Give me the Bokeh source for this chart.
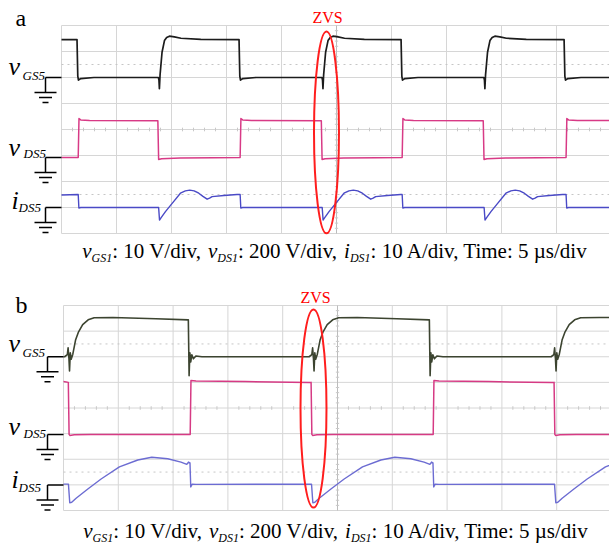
import numpy as np
from bokeh.plotting import figure
from bokeh.layouts import column
from bokeh.models import Range1d
from bokeh.core.properties import value
from bokeh.embed import file_html
from bokeh.resources import INLINE

# ---------------- scope settings ----------------
VGS_PER_DIV = 10.0    # V/div
VDS_PER_DIV = 200.0   # V/div
IDS_PER_DIV = 10.0    # A/div
US_PER_DIV = 5.0      # us/div
N_XDIV = 10
N_YDIV = 8
X_GRID = [0, 1, 2, 3, 4, 5, 6, 7, 8, 9, 10]
Y_GRID = [0, 1, 2, 3, 4, 5, 6, 7, 8]
DOTTED_Y = [1.5, 6.5]

# channel ground levels (divisions above the bottom of the screen)
A_GND_VGS, A_GND_VDS, A_GND_IDS = 6.0, 2.92, 1.0
B_GND_VGS, B_GND_VDS, B_GND_IDS = 6.0, 2.97, 1.0

# ---------------- panel a waveforms (time in us) ----------------
A_VGS_START = 14.6
A_VGS_FALL_T = [1.45, 16.18, 30.91, 45.73]
A_VGS_FALL_DT = [-0.04, 0.03, 0.09, 0.3, 1.5]
A_VGS_FALL_V = [14.6, 0.5, -1.0, -0.4, 0.0]
A_VGS_RISE_T = [8.86, 23.73, 38.45]
A_VGS_RISE_DT = [-0.05, 0.0, 0.04, 0.1, 0.28, 0.5, 0.7, 0.95, 1.4, 2.0, 3.8]
A_VGS_RISE_V = [0.0, -1.0, -4.3, 1.0, 9.7, 14.2, 15.4, 15.9, 15.6, 15.1, 14.7]

A_VDS_START = 0.0
A_VDS_RISE_T = [1.55, 16.27, 31.0, 45.9]
A_VDS_RISE_DT = [-0.03, 0.04, 0.2, 1.0]
A_VDS_RISE_V = [0.0, 300.0, 290.0, 286.0]
A_VDS_FALL_T = [8.80, 23.66, 38.38]
A_VDS_FALL_DT = [-0.04, 0.03, 0.3, 2.0, 5.0]
A_VDS_FALL_V = [284.0, -15.0, -9.0, -4.0, -2.0]

A_IDS_START = 4.8
A_IDS_DROP_T = [1.55, 16.27, 31.0, 45.9]
A_IDS_DROP_DT = [-0.03, 0.03, 0.2]
A_IDS_DROP_V = [5.0, -0.2, 0.0]
A_IDS_RISE_T = [8.86, 23.73, 38.45]
A_IDS_RISE_DT = [-0.03, 0.05, 0.2, 0.59, 1.2, 1.95, 2.4, 2.8, 3.2, 3.62, 4.0, 4.38, 4.6, 4.83, 5.9, 7.1]
A_IDS_RISE_V = [0.0, -4.8, -3.9, -1.6, 1.6, 5.5, 6.4, 6.7, 6.4, 5.5, 4.3, 3.2, 3.6, 4.2, 4.6, 5.0]

# ---------------- panel b waveforms (time in us) ----------------
B_VGS_START = 0.0
B_VGS_RISE_T = [0.50, 22.81, 44.89]
B_VGS_RISE_DT = [-0.4, -0.15, -0.08, 0.0, 0.05, 0.12, 0.2, 0.35, 0.6, 0.85, 1.25, 1.75, 2.3, 4.0]
B_VGS_RISE_V = [0.0, 0.8, 3.5, -1.0, -5.5, 1.5, -1.0, 1.0, 6.5, 9.5, 12.5, 14.4, 15.2, 15.3]
B_VGS_FALL_T = [11.43, 33.42]
B_VGS_FALL_DT = [-3.0, -0.04, 0.03, 0.1, 0.18, 0.28, 0.42, 0.65, 1.2]
B_VGS_FALL_V = [14.8, 14.4, -7.4, 1.5, -2.0, 0.8, -0.8, 0.3, 0.0]

B_VDS_START = 412.0
B_VDS_FALL_T = [0.48, 22.63, 44.80]
B_VDS_FALL_DT = [-0.04, 0.03, 0.1, 0.5, 2.0]
B_VDS_FALL_V = [406.0, 0.0, -8.0, -3.0, 0.0]
B_VDS_RISE_T = [11.59, 33.76]
B_VDS_RISE_DT = [-0.03, 0.04, 0.5, 5.0, 10.8]
B_VDS_RISE_V = [0.0, 420.0, 416.0, 412.0, 405.0]

B_IDS_START = 0.3
B_IDS_NEG_T = [0.45, 22.63, 44.80]
B_IDS_NEG_DT = [0.0, 0.12, 0.3, 0.7, 1.77, 2.98, 4.65, 6.33, 7.6, 9.06, 10.27, 10.8, 10.95]
B_IDS_NEG_V = [0.3, -7.0, -6.8, -5.2, -1.6, 2.3, 7.0, 9.7, 10.8, 10.2, 8.9, 8.0, 8.9]
B_IDS_ZERO_T = [11.59, 33.76]
B_IDS_ZERO_DT = [-0.05, 0.02, 0.15, 0.5]
B_IDS_ZERO_V = [8.6, -0.8, 0.3, 0.2]

# ZVS highlight ellipses (time us, div, width us, height div)
A_ZVS = dict(t=24.09, y=3.885, w=2.27, h=7.77)
B_ZVS = dict(t=22.81, y=3.98, w=2.37, h=7.73)

CAPTION = [("v", "italic", "main"), ("GS1", "italic", "sub"), (": 10 V/div, ", "normal", "main"),
           ("v", "italic", "main"), ("DS1", "italic", "sub"), (": 200 V/div, ", "normal", "main"),
           ("i", "italic", "main"), ("DS1", "italic", "sub"),
           (": 10 A/div, Time: 5 \u00b5s/div", "normal", "main")]

FONT = value("Liberation Serif")
A_COL = {"vgs": "#1c1c1c", "vds": "#d83a86", "ids": "#4a4ac6"}
B_COL = {"vgs": "#3c4430", "vds": "#d63a84", "ids": "#6c6cd2"}

# Times/Liberation Serif advance widths (per 1000 em)
REG_W = {' ': 250, ',': 250, ':': 278, '/': 278, 'A': 722, 'V': 722, 'T': 611, 'd': 500,
         'i': 278, 'v': 500, 'm': 778, 'e': 444, 's': 389, '\u00b5': 500}
ITA_W = {'v': 444, 'i': 278, 'G': 722, 'S': 500, 'D': 722}
BASE_K = 0.36   # empirical baseline correction (fraction of font size)


def text_width(s, style, size):
    tab = ITA_W if style == "italic" else REG_W
    return sum(tab.get(c, 500) for c in s) / 1000.0 * size


def build(start, events, t_end=50.0):
    ts, vs = [0.0], [start]
    for t0, dts, vals in sorted(events, key=lambda e: e[0]):
        for dt, v in zip(dts, vals):
            ts.append(t0 + dt)
            vs.append(v)
    ts.append(t_end)
    vs.append(vs[-1])
    return np.array(ts), np.array(vs)


def make_fig(h, xr, yr):
    p = figure(width=609, height=h, x_range=Range1d(*xr), y_range=Range1d(*yr),
               output_backend="svg", toolbar_location=None,
               x_axis_location=None, y_axis_location=None, min_border=0)
    p.grid.visible = False
    p.outline_line_color = None
    p.background_fill_color = "white"
    p.border_fill_color = "white"
    return p


def draw_screen(p):
    xs = [d * US_PER_DIV for d in X_GRID]
    tmax = N_XDIV * US_PER_DIV
    p.segment(x0=xs, y0=0, x1=xs, y1=N_YDIV, line_color="#d6d6d6", line_width=1)
    p.segment(x0=0, y0=Y_GRID, x1=tmax, y1=Y_GRID, line_color="#d6d6d6", line_width=1)
    p.segment(x0=[tmax / 2], y0=[0], x1=[tmax / 2], y1=[N_YDIV], line_color="#bcbcbc", line_width=1)
    p.segment(x0=0, y0=DOTTED_Y, x1=tmax, y1=DOTTED_Y, line_color="#c6c6c6",
              line_width=1, line_dash="2 4")
    tt = [k for k in range(1, 50) if k % 5]
    p.segment(x0=tt, y0=N_YDIV / 2 - 0.07, x1=tt, y1=N_YDIV / 2 + 0.07, line_color="#c8c8c8")
    ty = [k * 0.2 for k in range(1, 40) if k % 5]
    p.segment(x0=tmax / 2 - 0.15, y0=ty, x1=tmax / 2 + 0.15, y1=ty, line_color="#c8c8c8")


def ground(p, fx, fy, gnd_px, xl, xs):
    x0 = [xl, xl, xl - 11, xl - 6.5, xl - 3]
    x1 = [xs, xl, xl + 11, xl + 6.5, xl + 3]
    y0 = [gnd_px, gnd_px, gnd_px + 15, gnd_px + 20, gnd_px + 25]
    y1 = [gnd_px, gnd_px + 15, gnd_px + 15, gnd_px + 20, gnd_px + 25]
    p.segment(x0=[fx(v) for v in x0], y0=[fy(v) for v in y0],
              x1=[fx(v) for v in x1], y1=[fy(v) for v in y1],
              line_color="black", line_width=1.5)


def put_text(p, fx, fy, px, py, s, size, style="normal", color="black", align="left", xoff=0):
    p.text(x=[fx(px)], y=[fy(py - BASE_K * size)], text=[s], x_offset=xoff, text_font=FONT,
           text_font_style=style, text_font_size=f"{size}px", text_baseline="alphabetic",
           text_align=align, text_color=color)


def side_label(p, fx, fy, main, sub, mx, my, sx, sy):
    put_text(p, fx, fy, mx, my, main, 26, "italic")
    put_text(p, fx, fy, sx, sy, sub, 13, "italic")


def caption(p, fx, fy, cx, base):
    main, subsz = 21, 12
    widths = [text_width(s, st, main if k == "main" else subsz) for s, st, k in CAPTION]
    cum = -sum(widths) / 2.0
    for (s, st, k), w in zip(CAPTION, widths):
        size = main if k == "main" else subsz
        yy = base if k == "main" else base + 4
        put_text(p, fx, fy, cx, yy, s, size, st, xoff=cum)
        cum += w


# ---------------- panel a ----------------
fa_x = lambda px: (px - 61) / 11.0
fa_y = lambda py: (233 - py) / 26.0
pa = make_fig(273, (fa_x(0), fa_x(609)), (fa_y(273), fa_y(0)))
draw_screen(pa)

t, v = build(A_VGS_START, [(x, A_VGS_FALL_DT, A_VGS_FALL_V) for x in A_VGS_FALL_T] +
             [(x, A_VGS_RISE_DT, A_VGS_RISE_V) for x in A_VGS_RISE_T])
pa.line(t, A_GND_VGS + v / VGS_PER_DIV, line_color=A_COL["vgs"], line_width=1.7, line_join="round")
t, v = build(A_VDS_START, [(x, A_VDS_RISE_DT, A_VDS_RISE_V) for x in A_VDS_RISE_T] +
             [(x, A_VDS_FALL_DT, A_VDS_FALL_V) for x in A_VDS_FALL_T])
pa.line(t, A_GND_VDS + v / VDS_PER_DIV, line_color=A_COL["vds"], line_width=1.5, line_join="round")
t, v = build(A_IDS_START, [(x, A_IDS_DROP_DT, A_IDS_DROP_V) for x in A_IDS_DROP_T] +
             [(x, A_IDS_RISE_DT, A_IDS_RISE_V) for x in A_IDS_RISE_T])
pa.line(t, A_GND_IDS + v / IDS_PER_DIV, line_color=A_COL["ids"], line_width=1.4, line_join="round")

for g in (A_GND_VGS, A_GND_VDS, A_GND_IDS):
    ground(pa, fa_x, fa_y, 233 - g * 26.0, 45, 61)
side_label(pa, fa_x, fa_y, "v", "GS5", 8, 75, 22, 80)
side_label(pa, fa_x, fa_y, "v", "DS5", 8, 156, 23, 158)
side_label(pa, fa_x, fa_y, "i", "DS5", 11, 209, 18, 212)
put_text(pa, fa_x, fa_y, 15, 26, "a", 24)
pa.ellipse(x=[A_ZVS["t"]], y=[A_ZVS["y"]], width=[A_ZVS["w"]], height=[A_ZVS["h"]],
           fill_color=None, line_color="#ff1e1e", line_width=2)
put_text(pa, fa_x, fa_y, 327, 22.5, "ZVS", 16, color="#ff0000", align="center")
caption(pa, fa_x, fa_y, 335, 258)

# ---------------- panel b ----------------
fb_x = lambda px: (px - 63) / 10.96
fb_y = lambda py: (510 - py) / 25.625
pb = make_fig(271, (fb_x(0), fb_x(609)), (fb_y(544), fb_y(273)))
draw_screen(pb)

t, v = build(B_VGS_START, [(x, B_VGS_RISE_DT, B_VGS_RISE_V) for x in B_VGS_RISE_T] +
             [(x, B_VGS_FALL_DT, B_VGS_FALL_V) for x in B_VGS_FALL_T])
pb.line(t, B_GND_VGS + v / VGS_PER_DIV, line_color=B_COL["vgs"], line_width=1.6, line_join="round")
t, v = build(B_VDS_START, [(x, B_VDS_FALL_DT, B_VDS_FALL_V) for x in B_VDS_FALL_T] +
             [(x, B_VDS_RISE_DT, B_VDS_RISE_V) for x in B_VDS_RISE_T])
pb.line(t, B_GND_VDS + v / VDS_PER_DIV, line_color=B_COL["vds"], line_width=1.5, line_join="round")
t, v = build(B_IDS_START, [(x, B_IDS_NEG_DT, B_IDS_NEG_V) for x in B_IDS_NEG_T] +
             [(x, B_IDS_ZERO_DT, B_IDS_ZERO_V) for x in B_IDS_ZERO_T])
pb.line(t, B_GND_IDS + v / IDS_PER_DIV, line_color=B_COL["ids"], line_width=1.4, line_join="round")

for g in (B_GND_VGS, B_GND_VDS, B_GND_IDS):
    ground(pb, fb_x, fb_y, 510 - g * 25.625, 47, 63)
side_label(pb, fb_x, fb_y, "v", "GS5", 8, 352, 22, 357)
side_label(pb, fb_x, fb_y, "v", "DS5", 8, 435, 23, 438)
side_label(pb, fb_x, fb_y, "i", "DS5", 11, 488, 18, 492)
put_text(pb, fb_x, fb_y, 15, 313, "b", 24)
pb.ellipse(x=[B_ZVS["t"]], y=[B_ZVS["y"]], width=[B_ZVS["w"]], height=[B_ZVS["h"]],
           fill_color=None, line_color="#ff1e1e", line_width=2)
put_text(pb, fb_x, fb_y, 315, 302.5, "ZVS", 16, color="#ff0000", align="center")
caption(pb, fb_x, fb_y, 336, 538)

layout = column(pa, pb, spacing=0)
open("out.html", "w").write(file_html(layout, INLINE))
